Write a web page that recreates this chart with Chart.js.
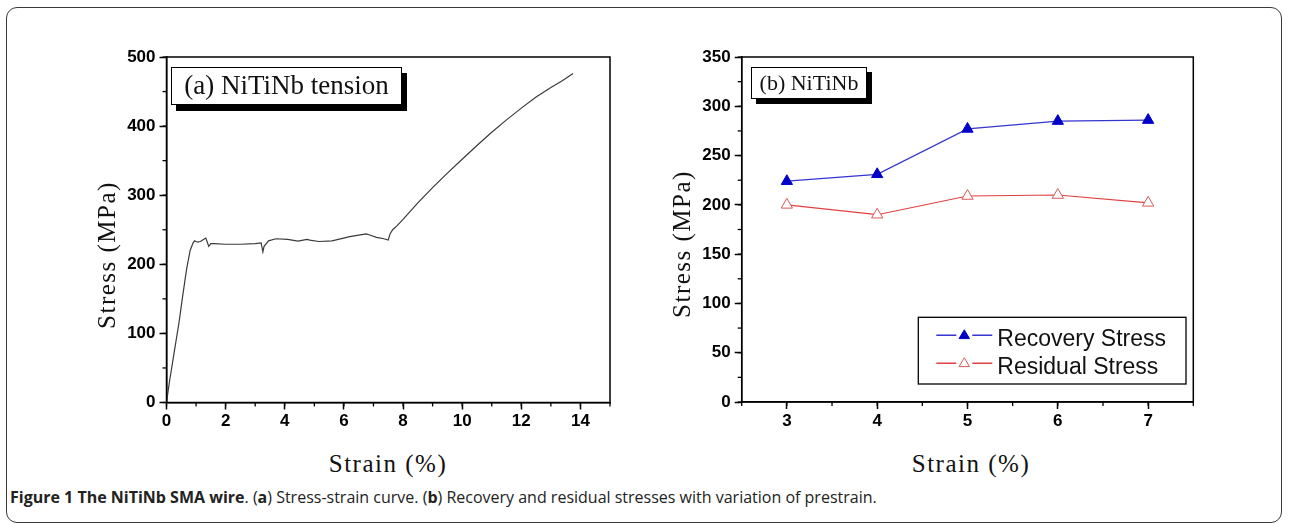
<!DOCTYPE html>
<html>
<head>
<meta charset="utf-8">
<script src="https://cdn.jsdelivr.net/npm/chart.js@4.4.0/dist/chart.umd.min.js"></script>
<style>
  html, body { margin:0; padding:0; background:#fff; }
  body { width:1289px; height:524px; position:relative; overflow:hidden; }
  canvas { position:absolute; top:0; }
  .frame { position:absolute; left:6px; top:7px; width:1276px; height:516px; box-sizing:border-box;
           border:1.5px solid #3a3a3a; border-radius:11px; }
  .ytitle { position:absolute; width:300px; height:30px; line-height:30px; text-align:center;
            font-family:"Liberation Serif","Times New Roman",serif; font-size:25px; letter-spacing:1.5px;
            color:#111; transform:rotate(-90deg); transform-origin:150px 15px; }
  .xtitle { position:absolute; width:300px; height:30px; line-height:30px; text-align:center;
            font-family:"Liberation Serif","Times New Roman",serif; font-size:25px; letter-spacing:1.5px; color:#111; }
  .tag { position:absolute; box-sizing:border-box; border:1.5px solid #000; background:#fff;
         font-family:"Liberation Serif","Times New Roman",serif; color:#111; text-align:center; }
  .caption { position:absolute; left:10px; top:486px; font-family:"Open Sans",sans-serif; font-size:16px;
             color:#222; white-space:nowrap; line-height:22px; }
</style>
</head>
<body>
<div class="frame"></div>
<canvas id="cA" width="640" height="440" style="left:0"></canvas>
<canvas id="cB" width="649" height="440" style="left:640px"></canvas>

<div class="ytitle" style="left:-43px; top:240px;">Stress (MPa)</div>
<div class="ytitle" style="left:532px; top:229px;">Stress (MPa)</div>
<div class="xtitle" style="left:238px; top:449px;">Strain (%)</div>
<div class="xtitle" style="left:821px; top:449px;">Strain (%)</div>

<div class="tag" style="left:171px; top:67px; width:231px; height:38px; line-height:35px; font-size:27px; box-shadow:5px 6px 0 #000;">(a) NiTiNb tension</div>
<div class="tag" style="left:751px; top:67px; width:116px; height:32px; line-height:29px; font-size:22px; box-shadow:5px 5px 0 #000;">(b) NiTiNb</div>

<div class="caption"><b>Figure 1 The NiTiNb SMA wire</b>. (<b>a</b>) Stress-strain curve. (<b>b</b>) Recovery and residual stresses with variation of prestrain.</div>

<script>
// ---------- data ----------
const strainA = [0, 0.1, 0.25, 0.42, 0.55, 0.68, 0.8, 0.9, 0.95, 1.05, 1.15, 1.25, 1.33, 1.38, 1.43, 1.5, 1.6, 2.0, 2.5, 3.0, 3.2, 3.26, 3.3, 3.45, 3.7, 4.1, 4.45, 4.75, 4.85, 5.15, 5.6, 6.2, 6.75, 6.9, 7.1, 7.35, 7.5, 7.56, 7.65, 7.8, 8.0, 8.5, 9.0, 9.5, 10.0, 10.5, 11.0, 11.5, 12.0, 12.5, 13.0, 13.4, 13.75];
const stressA = [0, 30, 70, 115, 155, 193, 220, 231, 234, 232, 233, 236, 238, 232, 226, 230, 230, 229, 229, 230, 231, 218, 226, 234, 237, 236, 233.5, 236, 235, 233, 234, 240, 244, 242, 239, 237, 235, 244, 250, 256, 265, 289, 311, 332, 352, 372, 391, 409, 426, 442, 456, 466, 476];

const strainB = [3, 4, 5, 6, 7];
const recoveryStress = [224, 231, 277, 285, 286];
const residualStress = [200, 190, 209, 210, 202];

const xTicksA = [0, 2, 4, 6, 8, 10, 12, 14];
const yTicksA = [0, 100, 200, 300, 400, 500];
const xTicksB = [3, 4, 5, 6, 7];
const yTicksB = [0, 50, 100, 150, 200, 250, 300, 350];

// ---------- helpers ----------
Chart.defaults.font.family = '"Liberation Sans", Arial, sans-serif';
Chart.defaults.color = '#000';

const framePlugin = {
  id: 'frameMinor',
  afterDraw(chart, args, opts) {
    const { ctx, chartArea: a } = chart;
    ctx.save();
    ctx.strokeStyle = '#000';
    ctx.lineWidth = 1.5;
    ctx.strokeRect(a.left, a.top, a.right - a.left, a.bottom - a.top);
    // minor ticks
    ctx.lineWidth = 1.3;
    const xs = chart.scales.x, ys = chart.scales.y;
    const nx = Math.round((xs.max - xs.min) / opts.minorX);
    for (let i = 0; i <= nx; i++) {
      const v = xs.min + i * opts.minorX;
      const px = xs.getPixelForValue(v);
      ctx.beginPath(); ctx.moveTo(px, a.bottom); ctx.lineTo(px, a.bottom + 4); ctx.stroke();
    }
    const ny = Math.round((ys.max - ys.min) / opts.minorY);
    for (let i = 0; i <= ny; i++) {
      const v = ys.min + i * opts.minorY;
      const py = ys.getPixelForValue(v);
      ctx.beginPath(); ctx.moveTo(a.left, py); ctx.lineTo(a.left - 4, py); ctx.stroke();
    }
    ctx.restore();
  }
};

const legendBoxPlugin = {
  id: 'legendBox',
  afterDraw(chart, args, opts) {
    if (!opts.show) return;
    const { ctx } = chart;
    ctx.save();
    ctx.strokeStyle = '#000';
    ctx.lineWidth = 1.3;
    ctx.strokeRect(opts.left, opts.top, opts.width, opts.height);
    ctx.font = '23px "Liberation Sans", Arial, sans-serif';
    ctx.textBaseline = 'alphabetic';
    chart.data.datasets.forEach((ds, i) => {
      const yLine = opts.top + 18 + i * 28;
      const cx = opts.left + 46, r = 5.5;
      ctx.strokeStyle = ds.borderColor;
      ctx.lineWidth = 1.5;
      ctx.beginPath();
      ctx.moveTo(opts.left + 18, yLine); ctx.lineTo(cx - 8, yLine);
      ctx.moveTo(cx + 8, yLine); ctx.lineTo(opts.left + 74, yLine);
      ctx.stroke();
      ctx.beginPath();
      ctx.moveTo(cx, yLine - r);
      ctx.lineTo(cx + r * 0.95, yLine + r * 0.6);
      ctx.lineTo(cx - r * 0.95, yLine + r * 0.6);
      ctx.closePath();
      ctx.fillStyle = ds.pointBackgroundColor;
      ctx.fill();
      ctx.strokeStyle = ds.pointBorderColor;
      ctx.lineWidth = 1;
      ctx.stroke();
      ctx.fillStyle = '#111';
      ctx.fillText(ds.label, opts.left + 79, yLine + 11);
    });
    ctx.restore();
  }
};

function axisCommon(labels) {
  return {
    type: 'linear',
    grid: { drawOnChartArea: false, drawTicks: true, tickLength: 7, tickColor: '#000', tickWidth: 1.5 },
    border: { display: true, color: '#000', width: 1.5 },
    afterBuildTicks: (s) => { s.ticks = labels.map(v => ({ value: v })); },
    ticks: {
      autoSkip: false,
      maxRotation: 0,
      color: '#000',
      font: { size: 17, weight: 'bold' },
      callback: (v) => String(v)
    }
  };
}

// ---------- Chart (a) ----------
const xA = axisCommon(xTicksA);
xA.min = 0; xA.max = 15; xA.ticks.padding = 2;
xA.afterFit = (s) => { s.height = 440 - 402.5; };
const yA = axisCommon(yTicksA);
yA.min = 0; yA.max = 500; yA.ticks.padding = 4;
yA.afterFit = (s) => { s.width = 166.5; };

new Chart(document.getElementById('cA'), {
  type: 'line',
  data: {
    datasets: [{
      label: 'NiTiNb tension',
      data: strainA.map((x, i) => ({ x, y: stressA[i] })),
      borderColor: '#3a3a3a',
      borderWidth: 1.2,
      pointRadius: 0,
      tension: 0,
      fill: false
    }]
  },
  options: {
    responsive: false,
    animation: false,
    layout: { padding: { top: 57, right: 30, left: 0, bottom: 0 } },
    plugins: { legend: { display: false }, tooltip: { enabled: false },
               frameMinor: { minorX: 1, minorY: 50 }, legendBox: { show: false } },
    scales: { x: xA, y: yA }
  },
  plugins: [framePlugin, legendBoxPlugin]
});

// ---------- Chart (b) ----------
const xB = axisCommon(xTicksB);
xB.min = 2.5; xB.max = 7.5; xB.ticks.padding = 2;
xB.afterFit = (s) => { s.height = 440 - 402; };
const yB = axisCommon(yTicksB);
yB.min = 0; yB.max = 350; yB.ticks.padding = 4;
yB.afterFit = (s) => { s.width = 101.7; };

new Chart(document.getElementById('cB'), {
  type: 'line',
  data: {
    datasets: [
      {
        label: 'Recovery Stress',
        data: strainB.map((x, i) => ({ x, y: recoveryStress[i] })),
        borderColor: '#3535d0',
        borderWidth: 1.2,
        pointStyle: 'triangle',
        pointRadius: 6.5,
        pointBackgroundColor: '#0000c8',
        pointBorderColor: '#0000c8',
        pointBorderWidth: 1,
        tension: 0
      },
      {
        label: 'Residual Stress',
        data: strainB.map((x, i) => ({ x, y: residualStress[i] })),
        borderColor: '#e04040',
        borderWidth: 1.2,
        pointStyle: 'triangle',
        pointRadius: 6.5,
        pointBackgroundColor: '#ffffff',
        pointBorderColor: '#d85a5a',
        pointBorderWidth: 1,
        tension: 0
      }
    ]
  },
  options: {
    responsive: false,
    animation: false,
    layout: { padding: { top: 57, right: 649 - 553.3, left: 0, bottom: 0 } },
    plugins: { legend: { display: false }, tooltip: { enabled: false },
               frameMinor: { minorX: 0.5, minorY: 25 },
               legendBox: { show: true, left: 278.3, top: 317.3, width: 267.7, height: 66.7 } },
    scales: { x: xB, y: yB }
  },
  plugins: [framePlugin, legendBoxPlugin]
});
</script>
</body>
</html>
